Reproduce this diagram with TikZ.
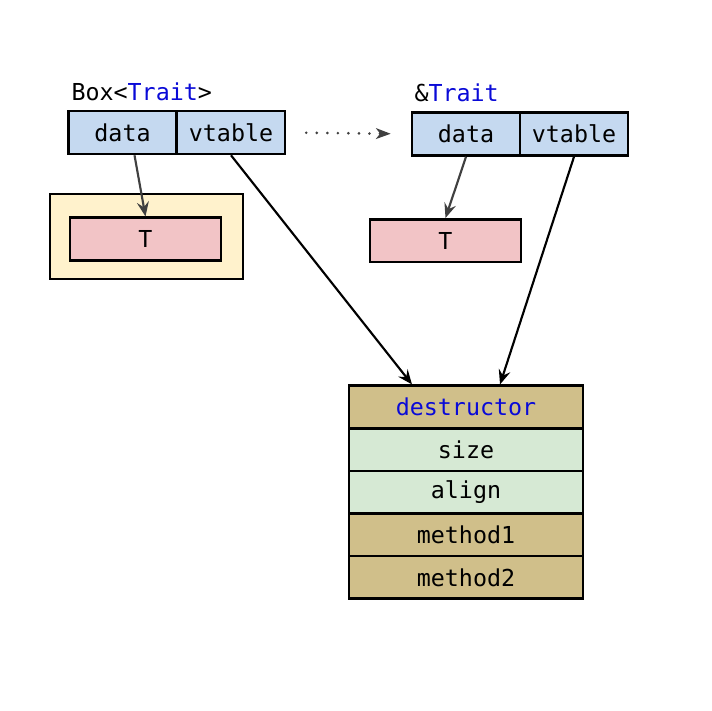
\documentclass[tikz,border=0pt]{standalone}
\usepackage{fontspec}
\setmonofont{DejaVu Sans Mono}
\usetikzlibrary{arrows.meta}
\definecolor{cellblue}{RGB}{197,217,240}
\definecolor{boxyellow}{RGB}{255,242,204}
\definecolor{tpink}{RGB}{242,196,198}
\definecolor{vtan}{RGB}{208,191,138}
\definecolor{vgreen}{RGB}{214,233,212}
\definecolor{kwblue}{RGB}{10,10,215}
\tikzset{every picture/.style={line width=0.75pt}}
\tikzset{
  cell/.style={draw,line width=1.9pt,fill=cellblue,minimum width=81pt,minimum height=32.25pt,inner sep=0pt,font=\ttfamily\fontsize{17.5}{20}\selectfont},
  tbox/.style={draw,line width=1.9pt,fill=tpink,minimum width=113.25pt,minimum height=31.9pt,inner sep=0pt,font=\ttfamily\fontsize{17.5}{20}\selectfont},
  vrow/.style={draw,line width=1.9pt,minimum width=175.5pt,minimum height=31.95pt,inner sep=0pt,font=\ttfamily\fontsize{17.5}{20}\selectfont},
  lbl/.style={inner sep=0pt,font=\ttfamily\fontsize{17.5}{20}\selectfont},
  ptr/.style={-{Stealth[length=11pt,width=9pt,inset=4pt]},line width=1.6pt},
}

\begin{document}
\begin{tikzpicture}[x=0.75pt,y=0.75pt,yscale=-1,xscale=1]
\useasboundingbox (0,0) rectangle (712,710);

% Box<Trait>
\node (boxlbl) at (71,100) [lbl,anchor=base west] {Box<\textcolor{kwblue}{Trait}>};
\node (data1) at (122.5,132.5) [cell] {data};
\node (vtable1) at (231,132.5) [cell] {vtable};
% heap box
\node (heap) at (146.5,236.5) [draw,line width=1.9pt,fill=boxyellow,minimum width=144.75pt,minimum height=63.75pt] {};
\node (t1) at (145.5,239) [tbox] {T};

% &Trait
\node (reflbl) at (414,101) [lbl,anchor=base west] {\&\textcolor{kwblue}{Trait}};
\node (data2) at (466,134) [cell] {data};
\node (vtable2) at (574,134) [cell] {vtable};
\node (t2) at (445.5,240.5) [tbox] {T};

% vtable
\node (dtor) at (466,407) [vrow,fill=vtan] {\textcolor{kwblue}{destructor}};
\node (size) at (466,449.6) [vrow,fill=vgreen] {size};
\node (align) at (466,492.2) [vrow,fill=vgreen] {align};
\node (m1) at (466,534.8) [vrow,fill=vtan] {method1};
\node (m2) at (466,577.4) [vrow,fill=vtan] {method2};

% pointers
\draw [ptr,draw=black!75,fill=black!75] ([xshift=9pt]data1.south) -- (t1.north);
\draw [ptr,draw=black!75,fill=black!75] (data2.south) -- (t2.north);
\draw [ptr] (vtable1.south) -- ([xshift=-40.5pt]dtor.north);
\draw [ptr] (vtable2.south) -- ([xshift=25.5pt]dtor.north);
\draw [black!75,line width=2.2pt,line cap=round,dash pattern=on 0pt off 7.9pt,shorten <=15pt,shorten >=15pt,-{Stealth[length=11pt,width=8pt,inset=3pt,line cap=butt,sep=0pt]}] (vtable1.east) -- (data2.west);

\end{tikzpicture}
\end{document}
